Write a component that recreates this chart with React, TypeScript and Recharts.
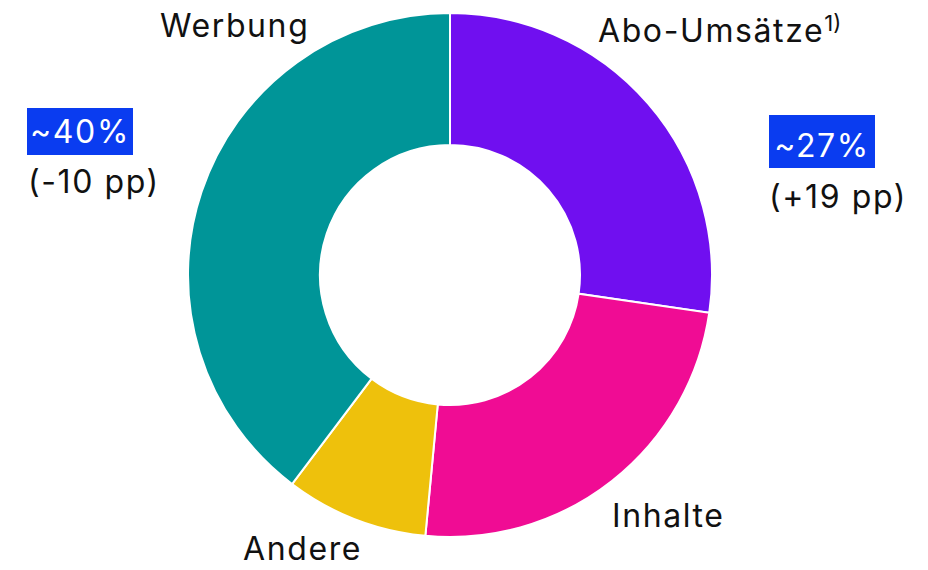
import { PieChart, Pie, Cell } from 'recharts';

const categories = ['Abo-Umsätze', 'Inhalte', 'Andere', 'Werbung'];
const shares = [27.3, 24.2, 8.8, 39.7];
const colors = ['#700ff0', '#f00c94', '#eec10c', '#009598'];

const highlightLabels = ['~40%', '~27%'];
const deltaLabels = ['(-10 pp)', '(+19 pp)'];

const font = 'Inter, "Noto Sans", sans-serif';

const data = categories.map((name, i) => ({ name, value: shares[i] }));

export default function App() {
    return (
        <div style={{ position: 'absolute', left: 0, top: 0, width: 928, height: 570, background: '#fff' }}>
            <PieChart width={928} height={570} margin={{ top: 0, right: 0, bottom: 0, left: 0 }}>
                <Pie
                    data={data}
                    dataKey="value"
                    cx={450}
                    cy={275}
                    innerRadius={130}
                    outerRadius={262}
                    startAngle={90}
                    endAngle={-270}
                    stroke="#ffffff"
                    strokeWidth={2}
                    isAnimationActive={false}
                >
                    {data.map((d, i) => (
                        <Cell key={d.name} fill={colors[i]} />
                    ))}
                </Pie>
            </PieChart>
            <svg width={928} height={570} style={{ position: 'absolute', left: 0, top: 0, pointerEvents: 'none' }}>
                <g fontFamily={font} fontSize={32} letterSpacing={1.6} fill="#111">
                    <text x={160} y={37}>{categories[3]}</text>
                    <text x={598} y={42}>
                        {categories[0]}
                        <tspan fontSize={22} letterSpacing={0} dy={-11}>1)</tspan>
                    </text>
                    <text x={612} y={527}>{categories[1]}</text>
                    <text x={243} y={560}>{categories[2]}</text>

                    <rect x={27} y={108} width={106} height={47} fill="#0a3cf0" />
                    <text x={80} y={143} textAnchor="middle" fill="#fff">{highlightLabels[0]}</text>
                    <text x={28} y={193}>{deltaLabels[0]}</text>

                    <rect x={769} y={115} width={106} height={53} fill="#0a3cf0" />
                    <text x={822} y={157} textAnchor="middle" fill="#fff">{highlightLabels[1]}</text>
                    <text x={769} y={208}>{deltaLabels[1]}</text>
                </g>
            </svg>
        </div>
    );
}
